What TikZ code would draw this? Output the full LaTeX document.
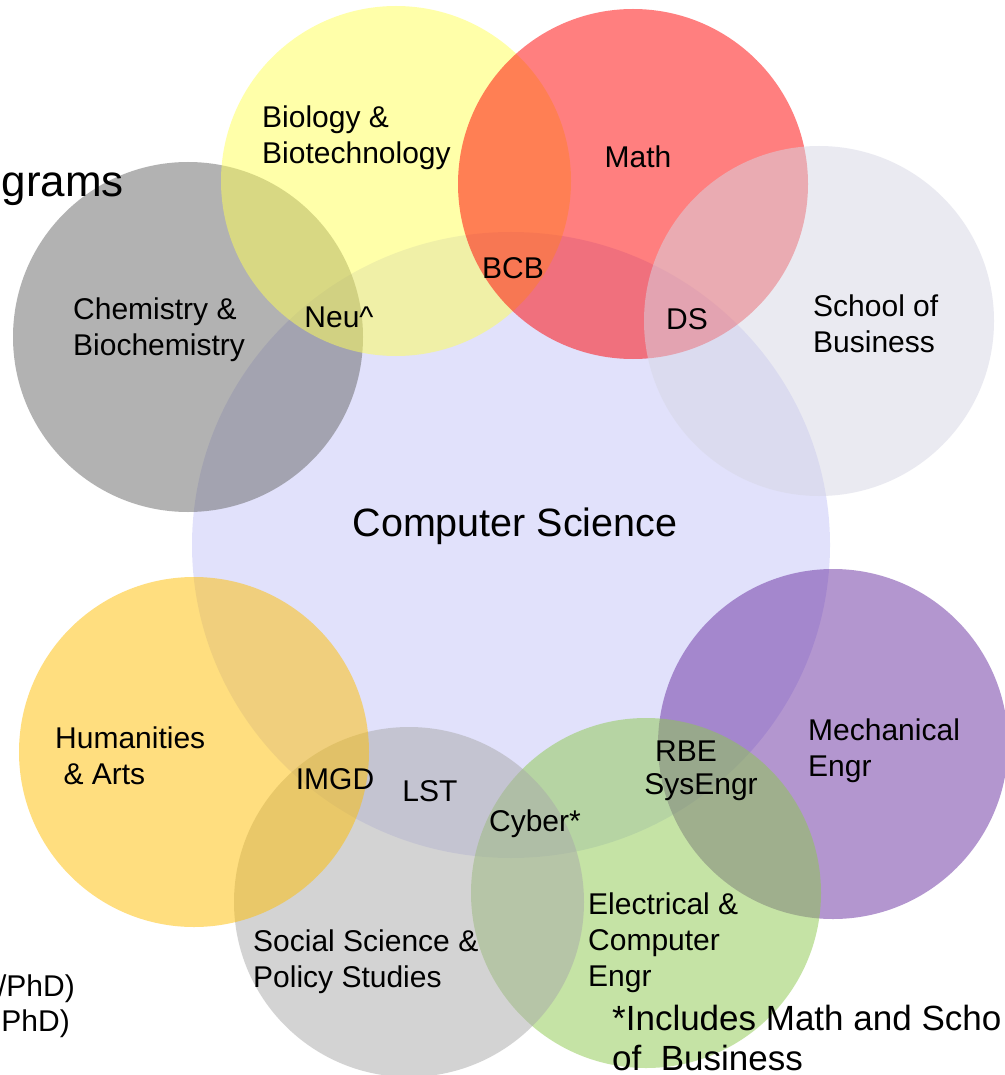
\documentclass[tikz,border=0pt]{standalone}
\usepackage{fontspec}
\setmainfont{Liberation Sans}
\usetikzlibrary{shapes.geometric}
\definecolor{csC}{RGB}{197,197,249}
\definecolor{chemC}{RGB}{103,103,103}
\definecolor{bioC}{RGB}{255,255,85}
\definecolor{mathC}{RGB}{255,0,0}
\definecolor{busC}{RGB}{215,215,229}
\definecolor{mechC}{RGB}{105,47,161}
\definecolor{eceC}{RGB}{141,201,77}
\definecolor{socC}{RGB}{169,169,169}
\definecolor{humC}{RGB}{255,191,0}
\begin{document}
\begin{tikzpicture}[x=1pt,y=-1pt,
  setc/.style={circle, fill opacity=0.5, draw=none, minimum size=350pt, inner sep=0pt},
  lbl/.style={font=\fontsize{30}{36}\selectfont, inner sep=0pt, text=black, align=left},
  lblc/.style={lbl, align=center}]
\fill[white] (0,0) rectangle (1004,1075);
\useasboundingbox (0,0) rectangle (1004,1075);
% circles
\node[ellipse, fill=csC, fill opacity=0.5, minimum width=638pt, minimum height=626pt, inner sep=0pt] (cs) at (511,545) {};
\node[setc, fill=chemC] (chem) at (188,337) {};
\node[setc, fill=bioC] (bio) at (396,181) {};
\node[setc, fill=mathC] (math) at (633,184) {};
\node[setc, fill=busC] (bus) at (819,321) {};
\node[setc, fill=mechC] (mech) at (833,744) {};
\node[setc, fill=eceC] (ece) at (646,893) {};
\node[setc, fill=socC] (soc) at (409,902) {};
\node[setc, fill=humC] (hum) at (194,752) {};
% labels (multi-line nodes: base = last line)
\node[lbl, anchor=base west] (lbio) at (262,164) {Biology \&\\Biotechnology};
\node[lbl, anchor=base] (lmath) at (638,168) {Math};
\node[lbl, anchor=base] (lbcb) at (513,278) {BCB};
\node[lbl, anchor=base] (lneu) at (339,327) {Neu\^{}};
\node[lbl, anchor=base west] (lchem) at (73,355) {Chemistry \&\\Biochemistry};
\node[lbl, anchor=base] (lds) at (687,329) {DS};
\node[lbl, anchor=base west] (lbus) at (813,352) {School of\\Business};
\node[lbl, anchor=base, font=\fontsize{39.5}{46}\selectfont] (lcs) at (515,536) {Computer Science};
\node[lbl, anchor=base west] (lhum) at (55,784) {Humanities\\\ \& Arts};
\node[lbl, anchor=base] (limgd) at (335,789) {IMGD};
\node[lbl, anchor=base] (llst) at (430,801) {LST};
\node[lbl, anchor=base] (lcyber) at (535,831) {Cyber*};
\node[lbl, anchor=base] (lrbe) at (686,761) {RBE};
\node[lbl, anchor=base] (lsys) at (701,794) {SysEngr};
\node[lbl, anchor=base west] (lmech) at (808,776) {Mechanical\\Engr};
\node[lbl, anchor=base west] (lece) at (588,986) {Electrical \&\\Computer\\Engr};
\node[lbl, anchor=base west] (lsoc) at (253,987) {Social Science \&\\Policy Studies};
\node[lbl, anchor=base west, font=\fontsize{35}{40}\selectfont] (lnote) at (612,1070) {*Includes Math and Scho\\of\ \ Business};
\node[lbl, anchor=base east, font=\fontsize{44}{50}\selectfont] (ltitle) at (124,197) {grams};
\node[lbl, anchor=base east] (lphd1) at (75,996) {/PhD)};
\node[lbl, anchor=base east] (lphd2) at (70,1031) {PhD)};
\end{tikzpicture}
\end{document}
